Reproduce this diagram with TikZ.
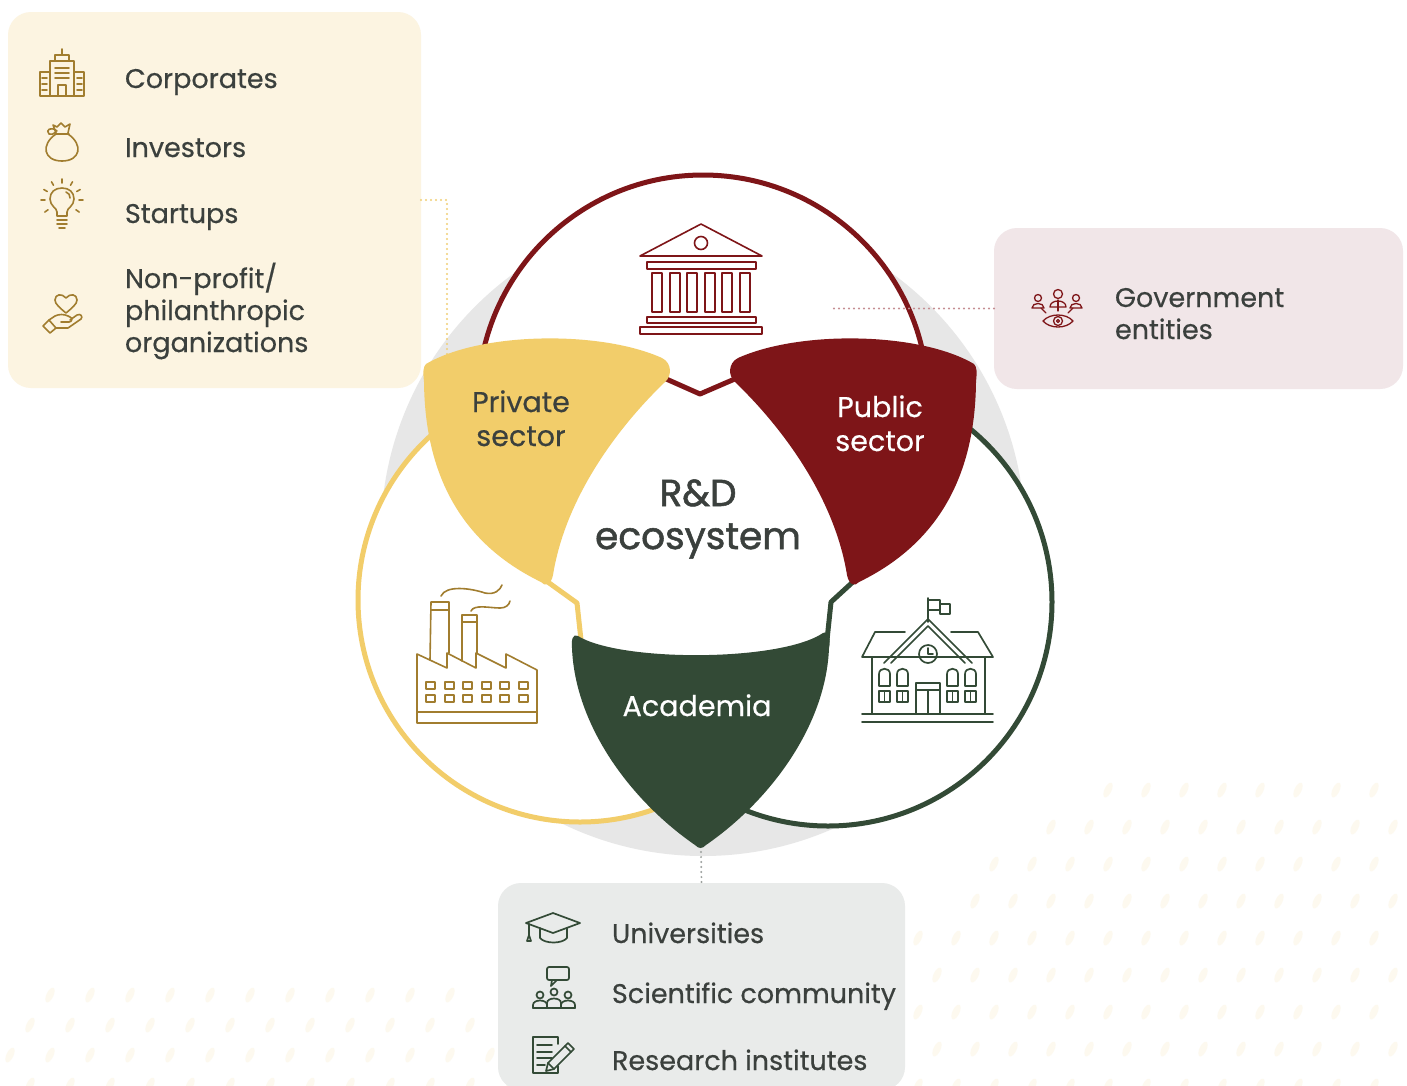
\documentclass[tikz,border=0pt]{standalone}
\usepackage{fontspec}
\setmainfont{Poppins}[FakeBold=0.45]
\newfontfamily\hubfont{Poppins}[FakeBold=1.4]
\usetikzlibrary{calc}

\definecolor{ink}{HTML}{3B403D}
\definecolor{privc}{HTML}{F2CD6A}
\definecolor{pubc}{HTML}{7E1518}
\definecolor{acc}{HTML}{334A36}
\definecolor{gold}{HTML}{A17D2F}
\definecolor{cream}{HTML}{FCF4E1}
\definecolor{rose}{HTML}{F1E6E8}
\definecolor{mist}{HTML}{E9EBEA}
\definecolor{halo}{HTML}{E7E7E7}
\definecolor{speck}{HTML}{FDF9EF}
\definecolor{privdot}{HTML}{F0CF76}
\definecolor{pubdot}{HTML}{C58D91}
\definecolor{acdot}{HTML}{9CA19E}

\begin{document}
\begin{tikzpicture}[x=1pt,y=-1pt,
  every node/.style={inner sep=0pt, outer sep=0pt},
  rowtext/.style={anchor=base west, text=ink, font=\fontsize{27}{32}\selectfont},
  petaltext/.style={anchor=base, font=\fontsize{28.6}{34}\selectfont},
  hubtext/.style={anchor=base, text=ink, font=\hubfont\fontsize{37.5}{43}\selectfont},
  ring/.style={line width=5pt},
  link/.style={line width=5pt, line join=round, line cap=round},
  leader/.style={line width=2.2pt, line cap=round, dash pattern=on 0pt off 5pt},
  goldicon/.style={draw=gold, line width=1.6pt, line join=round, line cap=round},
  redicon/.style={draw=pubc, line width=1.6pt, line join=round, line cap=round},
  greenicon/.style={draw=acc, line width=1.7pt, line join=round, line cap=round},
  panel/.style={rounded corners=23pt},
  speckle/.style={fill=speck},
]
\useasboundingbox (0,0) rectangle (1407,1085);
\fill[white] (0,0) rectangle (1407,1085);

% faint speckle field, lower right and lower left
\foreach \i in {0,...,14}{
  \foreach \j in {0,...,8}{
    \pgfmathsetmacro{\px}{880+38*\i+19*mod(\j,2)}
    \pgfmathsetmacro{\py}{790+37*\j}
    \pgfmathtruncatemacro{\keep}{veclen(\px-1300,\py-1200)<470}
    \ifnum\keep=1
      \fill[speckle, rotate around={-25:(\px,\py)}] (\px,\py) ellipse (3.5 and 8);
    \fi
  }}
\foreach \i in {0,...,13}{
  \foreach \j in {0,...,3}{
    \pgfmathsetmacro{\px}{10+40*\i+20*mod(\j,2)}
    \pgfmathsetmacro{\py}{995+30*\j}
    \pgfmathtruncatemacro{\keep}{veclen(\px-260,\py-1180)<290}
    \ifnum\keep=1
      \fill[speckle, rotate around={-25:(\px,\py)}] (\px,\py) ellipse (3.5 and 8);
    \fi
  }}

% centres of the three sector circles and the halo disk
\coordinate (redc) at (703,400);
\coordinate (yelc) at (580,600);
\coordinate (grnc) at (828,602);
\coordinate (hub) at (703,534);

\fill[halo] (hub) circle (322);
\fill[white] (redc) circle (225) (yelc) circle (222) (grnc) circle (224);

% visible parts of the rings
\begin{scope}
  \clip (0,0) rectangle (1407,372);
  \draw[ring, draw=pubc] (redc) circle (225);
\end{scope}
\begin{scope}
  \clip (0,0) -- (648,0) -- (648,370) -- (662,830) -- (662,1085) -- (0,1085) -- cycle;
  \draw[ring, draw=privc] (yelc) circle (222);
\end{scope}
\begin{scope}
  \clip (1407,0) -- (752,0) -- (752,370) -- (738,830) -- (738,1085) -- (1407,1085) -- cycle;
  \draw[ring, draw=acc] (grnc) circle (224);
\end{scope}

% panels
\node[panel, fill=cream, minimum width=413pt, minimum height=376pt] (privbox) at (214.5,200) {};
\node[panel, fill=rose, minimum width=409pt, minimum height=161pt] (govbox) at (1198.5,308.5) {};
\node[panel, fill=mist, minimum width=407pt, minimum height=207pt] (acbox) at (701.5,986.5) {};

% joints between the sector shapes
\coordinate (pvR) at (664,378);
\coordinate (vdip) at (700,394);
\coordinate (pbL) at (737,378);
\coordinate (pvTip) at (545,580);
\coordinate (ykink) at (577,603);
\coordinate (acL) at (581,640);
\coordinate (pbTip) at (855,580);
\coordinate (gkink) at (831,602);
\coordinate (acR) at (827,640);
\coordinate (pvTop) at (447,362);
\coordinate (pbIn) at (833,308.5);
\coordinate (acTip) at (701,852);

\draw[link, draw=pubc] (pvR) -- (vdip) -- (pbL);
\draw[link, draw=privc] (pvTip) -- (ykink) -- (acL);
\draw[link, draw=acc] (pbTip) -- (gkink) -- (acR);

% dotted leaders
\draw[leader, draw=privdot] (privbox.east) -| (pvTop);
\draw[leader, draw=pubdot] (govbox.west) -- (pbIn);
\draw[leader, draw=acdot] (acTip) -- (acbox.north);

% sector shapes
\fill[privc] (426,364) .. controls (480,332) and (600,330) .. (662,358)
  .. controls (672,363) and (672,376) .. (665,382)
  .. controls (615,430) and (565,500) .. (553,575)
  .. controls (551,585) and (545,587) .. (541,582)
  .. controls (465,545) and (425,480) .. (424,382)
  .. controls (423,372) and (423,367) .. (426,364) -- cycle;
\fill[pubc] (974,364) .. controls (920,332) and (800,330) .. (738,358)
  .. controls (728,363) and (728,376) .. (735,382)
  .. controls (785,430) and (835,500) .. (847,575)
  .. controls (849,585) and (855,587) .. (859,582)
  .. controls (935,545) and (975,480) .. (976,382)
  .. controls (977,372) and (977,367) .. (974,364) -- cycle;
\fill[acc] (578,636) .. controls (620,662) and (780,662) .. (823,633)
  .. controls (829,630) and (831,640) .. (829,648)
  .. controls (826,725) and (771,800) .. (706,845)
  .. controls (702,849) and (699,849) .. (695,845)
  .. controls (630,800) and (575,725) .. (572,648)
  .. controls (571,640) and (573,633) .. (578,636) -- cycle;

% sector labels
\node[petaltext, text=ink] (pv1) at (521,412) {Private};
\node[petaltext, text=ink] (pv2) at (521,446) {sector};
\node[petaltext, text=white] (pb1) at (880,417) {Public};
\node[petaltext, text=white] (pb2) at (880,451) {sector};
\node[petaltext, text=white] (ac1) at (697,716) {Academia};
\node[hubtext] (rd1) at (698,506) {R\&D};
\node[hubtext] (rd2) at (698,549) {ecosystem};

% government building
\begin{scope}[redicon]
  \draw (640,256) -- (701,224) -- (762,256) -- cycle;
  \draw (701,243) circle (6.5);
  \draw (647,262) rectangle (756,269);
  \foreach \c in {652,670,687,705,722,740}{
    \draw (\c,273) rectangle (\c+10,312);
  }
  \draw (647,317) rectangle (756,323);
  \draw (640,327) rectangle (762,334);
\end{scope}

% factory
\begin{scope}[goldicon]
  \draw (417,712) -- (417,654) -- (447,668) -- (447,653) -- (476,668) -- (476,653)
        -- (506,668) -- (506,654) -- (537,670) -- (537,712);
  \draw (417,712) rectangle (537,723);
  \draw (430,660) -- (431,602) -- (449,602) -- (449,653);
  \draw (431,610) -- (449,610);
  \draw (462,661) -- (462,615) -- (477,615) -- (477,653);
  \draw (462,622) -- (477,622);
  \draw (441,596) .. controls (446,585) and (470,588) .. (485,593)
        .. controls (495,595) and (500,590) .. (502,585);
  \draw (471,611) .. controls (474,604) and (490,608) .. (500,608)
        .. controls (506,608) and (509,605) .. (510,601);
  \foreach \c in {426,445,463,482,500,519}{
    \draw (\c,682) rectangle (\c+9,689);
    \draw (\c,695) rectangle (\c+9,702);
  }
\end{scope}

% school
\begin{scope}[greenicon]
  \draw (928,622) -- (928,598);
  \draw (928,600) -- (940,600) -- (940,604) -- (950,604) -- (950,614) -- (940,614) -- (940,610) -- (928,610);
  \draw (940,604) -- (940,610);
  \draw (905,632) -- (875,632) -- (862,657) -- (993,657) -- (978,632) -- (951,632);
  \draw (884,663) -- (928,619) -- (972,663);
  \draw (891,663) -- (928,626) -- (965,663);
  \draw (928,654) circle (9);
  \draw (928,648) -- (928,654) -- (933,654);
  \draw (872,657) -- (872,714);
  \draw (985,657) -- (985,714);
  \foreach \c in {879,897,947,965}{
    \draw (\c,686) -- (\c,674) .. controls (\c,667) and (\c+11,667) .. (\c+11,674) -- (\c+11,686) -- cycle;
    \draw (\c,691) rectangle (\c+11,702);
    \draw (\c+5.5,691) -- (\c+5.5,702);
  }
  \draw (916,714) -- (916,683) -- (940,683) -- (940,714);
  \draw (916,690) -- (940,690);
  \draw (928,690) -- (928,714);
  \draw (862,714) -- (993,714);
  \draw (862,722) -- (993,722);
\end{scope}

% private sector list
\begin{scope}[goldicon]
  % office block
  \draw (62,49) -- (62,55);
  \draw (55,55) rectangle (69,61);
  \draw (50,61) rectangle (74,96);
  \draw (40,72) rectangle (50,96);
  \draw (74,72) rectangle (84,96);
  \foreach \yy in {68,73,78}{ \draw (55,\yy) -- (69,\yy); }
  \draw (58,96) -- (58,85) -- (66,85) -- (66,96);
  \foreach \yy in {78,84,90}{ \draw (42,\yy) -- (47,\yy); \draw (77,\yy) -- (82,\yy); }
  % money bag
  \draw (56,134) .. controls (40,145) and (44,161) .. (62,161)
        .. controls (80,161) and (84,145) .. (68,134);
  \draw (55,134) -- (69,134);
  \draw (56,133) -- (53,125) -- (57,127) -- (61,123) -- (65,127) -- (70,124) -- (68,133);
  \draw (57,131) .. controls (51,126) and (45,130) .. (49,134) .. controls (51,135) and (54,134) .. (56,132);
  % light bulb
  \draw (57,216) -- (57,212) .. controls (57,208) and (50,206) .. (50,199)
        .. controls (50,192) and (55,188) .. (62,188)
        .. controls (69,188) and (74,192) .. (74,199)
        .. controls (74,206) and (67,208) .. (67,212) -- (67,216) -- cycle;
  \draw (66,192) .. controls (69,193) and (70,195) .. (70,198);
  \draw (57,220) -- (67,220);
  \draw (57,224) -- (67,224);
  \draw (59,228) -- (65,228);
  \foreach \a in {-90,-60,-120,-30,-150,0,180,35,145}{
    \draw ($(62,200)+(\a:17)$) -- ($(62,200)+(\a:21)$);
  }
  % hand and heart
  \draw (66,313) .. controls (60,308) and (55,304) .. (55,300)
        .. controls (55,294) and (62,293) .. (66,298)
        .. controls (70,293) and (77,294) .. (77,300)
        .. controls (77,304) and (72,308) .. (66,313);
  \draw (43,326) -- (49,320) -- (56,328) -- (50,333) -- cycle;
  \draw (49,320) -- (55,316) .. controls (59,314) and (64,314) .. (68,316)
        -- (70,317) .. controls (73,318) and (72,322) .. (69,322) -- (61,322);
  \draw (56,328) -- (68,328) -- (81,319) .. controls (83,317) and (81,313) .. (77,315) -- (70,320);
\end{scope}

% government entities icon
\begin{scope}[redicon, line width=1.3pt]
  \draw (1058,294) circle (4.5);
  \draw (1050,307) .. controls (1050,299) and (1066,299) .. (1066,307) -- cycle;
  \draw (1058,300) -- (1058,311);
  \draw (1038,298) circle (3.5);
  \draw (1032,308) .. controls (1032,302) and (1044,302) .. (1044,308) -- cycle;
  \draw (1076,298) circle (3.5);
  \draw (1070,308) .. controls (1070,302) and (1082,302) .. (1082,308) -- cycle;
  \draw (1041,308) -- (1046,313);
  \draw (1073,308) -- (1068,313);
  \draw (1043,321) .. controls (1050,313) and (1066,313) .. (1073,321)
        .. controls (1066,329) and (1050,329) .. (1043,321) -- cycle;
  \draw (1058,321) circle (4.5);
  \draw (1058,321) circle (1.5);
\end{scope}

% academia list icons
\begin{scope}[greenicon]
  % mortarboard
  \draw (526,923) -- (553,913) -- (580,923) -- (553,933) -- cycle;
  \draw (540,928) -- (540,938) .. controls (545,944) and (562,944) .. (567,938) -- (567,928);
  \draw (529,924) -- (529,936);
  \draw (527,941) -- (529,935) -- (531,941) -- cycle;
  % people with speech bubble
  \draw[rounded corners=2pt] (547,967) rectangle (569,980);
  \draw (552,980) -- (551,986) -- (557,980);
  \draw (540,995) circle (3.5);
  \draw (554,992) circle (3.5);
  \draw (568,995) circle (3.5);
  \draw (533,1008) -- (533,1005) .. controls (533,999) and (547,999) .. (547,1005) -- (547,1008);
  \draw (547,1008) -- (547,1003) .. controls (547,997) and (561,997) .. (561,1003) -- (561,1008);
  \draw (561,1008) -- (561,1005) .. controls (561,999) and (575,999) .. (575,1005) -- (575,1008);
  \draw (533,1008) -- (575,1008);
  % sheet and pencil
  \draw (558,1044) -- (558,1037) -- (533,1037) -- (533,1073) -- (558,1073) -- (558,1066);
  \foreach \yy in {1045,1052,1058}{ \draw (537,\yy) -- (552,\yy); }
  \draw (537,1065) -- (545,1065);
  \draw (546,1071) -- (548,1063) -- (568,1043) -- (574,1049) -- (554,1069) -- cycle;
  \draw (548,1063) -- (554,1069);
  \draw (565,1046) -- (571,1052);
\end{scope}

% list texts
\node[rowtext] (t1) at (125,88) {Corporates};
\node[rowtext] (t2) at (125,157) {Investors};
\node[rowtext] (t3) at (125,223) {Startups};
\node[rowtext] (t4) at (125,288) {Non-profit/};
\node[rowtext] (t5) at (125,320) {philanthropic};
\node[rowtext] (t6) at (125,352) {organizations};
\node[rowtext] (g1) at (1115,307) {Government};
\node[rowtext] (g2) at (1115,339) {entities};
\node[rowtext] (a1) at (612,943) {Universities};
\node[rowtext] (a2) at (612,1003) {Scientific community};
\node[rowtext] (a3) at (612,1070) {Research institutes};
\end{tikzpicture}
\end{document}
